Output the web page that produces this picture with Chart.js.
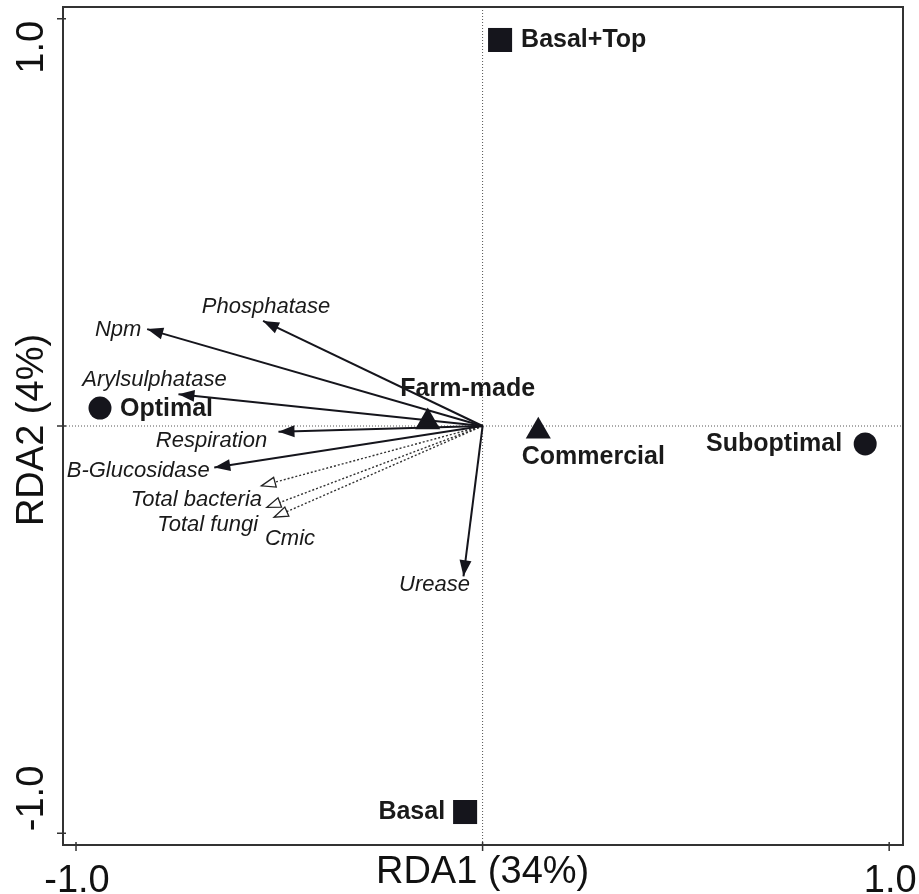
<!DOCTYPE html>
<html>
<head>
<meta charset="utf-8">
<script src="https://cdn.jsdelivr.net/npm/chart.js@4.4.1/dist/chart.umd.min.js"></script>
<style>
  html, body { margin: 0; padding: 0; background: #ffffff; }
  canvas { display: block; }
</style>
</head>
<body>
<canvas id="rda" width="919" height="894"></canvas>
<script>
// Response variables shown as biplot arrows (RDA1, RDA2 scores)
const varNames  = ['Phosphatase', 'Npm', 'Arylsulphatase', 'Respiration', 'B-Glucosidase',
                   'Total bacteria', 'Total fungi', 'Cmic', 'Urease'];
const varRDA1   = [-0.540, -0.825, -0.748, -0.502, -0.660, -0.544, -0.531, -0.513, -0.047];
const varRDA2   = [ 0.258,  0.238,  0.078, -0.014, -0.102, -0.147, -0.200, -0.224, -0.369];
const varDotted = [false, false, false, false, false, true, true, true, false];

// Treatment centroids
const fertNames   = ['Basal+Top', 'Basal'];
const fertRDA1    = [ 0.043, -0.043];
const fertRDA2    = [ 0.948, -0.948];
const irrigNames  = ['Optimal', 'Suboptimal'];
const irrigRDA1   = [-0.941,  0.941];
const irrigRDA2   = [ 0.044, -0.044];
const manureNames = ['Farm-made', 'Commercial'];
const manureRDA1  = [-0.135,  0.137];
const manureRDA2  = [ 0.010, -0.013];

// Axes
const axisTicks  = [-1, 0, 1];
const tickLabels = ['-1.0', '', '1.0'];
const xTitle = 'RDA1 (34%)';
const yTitle = 'RDA2 (4%)';

// Label placement (pixel offsets from each mark) and alignment
const varLabelOffset = [[3, -14], [-29, 1], [-24, -14], [-67, 9], [-76, 3], [-65, 14], [-59, 17], [16, 22], [-29, 9]];
const fertLabel   = [[21, 0, 'left'], [-20, 0, 'right']];
const irrigLabel  = [[20, 1, 'left'], [-23, 0, 'right']];
const manureLabel = [[40, -33, 'center'], [55, 26, 'center']];

const INK = '#15151c';
const FONT = '"Liberation Sans", Arial, Helvetica, sans-serif';

const pts = (xs, ys) => xs.map((v, i) => ({ x: v, y: ys[i] }));

const datasets = [];
varNames.forEach((name, i) => {
  datasets.push({
    label: name,
    data: [{ x: 0, y: 0 }, { x: varRDA1[i], y: varRDA2[i] }],
    showLine: true,
    borderColor: varDotted[i] ? '#333' : INK,
    borderWidth: varDotted[i] ? 1.4 : 2,
    borderDash: varDotted[i] ? [2, 2] : [],
    pointRadius: 0
  });
});
datasets.push({ label: 'Fertilization', data: pts(fertRDA1, fertRDA2), pointStyle: 'rect',
  pointRadius: 17, backgroundColor: INK, borderWidth: 0, showLine: false });
datasets.push({ label: 'Irrigation', data: pts(irrigRDA1, irrigRDA2), pointStyle: 'circle',
  pointRadius: 11.5, backgroundColor: INK, borderWidth: 0, showLine: false });
datasets.push({ label: 'Manure', data: pts(manureRDA1, manureRDA2), pointStyle: 'triangle',
  pointRadius: 14.5, backgroundColor: INK, borderWidth: 0, showLine: false });

const biplotDecor = {
  id: 'biplotDecor',
  beforeDatasetsDraw(chart) {
    const { ctx, chartArea: a, scales: { x, y } } = chart;
    const x0 = x.getPixelForValue(0), y0 = y.getPixelForValue(0);
    ctx.save();
    ctx.strokeStyle = '#555';
    ctx.lineWidth = 1;
    ctx.setLineDash([1, 2]);
    ctx.beginPath();
    ctx.moveTo(x0, a.top); ctx.lineTo(x0, a.bottom);
    ctx.moveTo(a.left, y0); ctx.lineTo(a.right, y0);
    ctx.stroke();
    ctx.restore();
  },
  afterDatasetsDraw(chart) {
    const { ctx, chartArea: a, scales: { x, y } } = chart;
    const ox = x.getPixelForValue(0), oy = y.getPixelForValue(0);
    ctx.save();

    // arrowheads
    varNames.forEach((name, i) => {
      const tx = x.getPixelForValue(varRDA1[i]), ty = y.getPixelForValue(varRDA2[i]);
      const ang = Math.atan2(ty - oy, tx - ox);
      const L = varDotted[i] ? 14 : 16, W = varDotted[i] ? 5 : 6;
      const bx = tx - L * Math.cos(ang), by = ty - L * Math.sin(ang);
      const px = -Math.sin(ang) * W, py = Math.cos(ang) * W;
      ctx.beginPath();
      ctx.moveTo(tx, ty);
      ctx.lineTo(bx + px, by + py);
      ctx.lineTo(bx - px, by - py);
      ctx.closePath();
      ctx.setLineDash([]);
      if (varDotted[i]) {
        ctx.fillStyle = '#fff'; ctx.fill();
        ctx.strokeStyle = '#222'; ctx.lineWidth = 1.3; ctx.stroke();
      } else {
        ctx.fillStyle = INK; ctx.fill();
      }
    });

    // variable labels
    ctx.fillStyle = '#1a1a1a';
    ctx.font = 'italic 22px ' + FONT;
    ctx.textAlign = 'center';
    ctx.textBaseline = 'middle';
    varNames.forEach((name, i) => {
      const tx = x.getPixelForValue(varRDA1[i]), ty = y.getPixelForValue(varRDA2[i]);
      ctx.fillText(name, tx + varLabelOffset[i][0], ty + varLabelOffset[i][1]);
    });

    // centroid labels
    ctx.font = 'bold 25px ' + FONT;
    const putLabels = (names, xs, ys, spec) => names.forEach((n, i) => {
      ctx.textAlign = spec[i][2];
      ctx.fillText(n, x.getPixelForValue(xs[i]) + spec[i][0], y.getPixelForValue(ys[i]) + spec[i][1]);
    });
    putLabels(fertNames, fertRDA1, fertRDA2, fertLabel);
    putLabels(irrigNames, irrigRDA1, irrigRDA2, irrigLabel);
    putLabels(manureNames, manureRDA1, manureRDA2, manureLabel);

    // frame
    ctx.strokeStyle = '#333';
    ctx.lineWidth = 2;
    ctx.strokeRect(a.left, a.top, a.right - a.left, a.bottom - a.top);

    // tick marks
    ctx.lineWidth = 1.5;
    ctx.beginPath();
    axisTicks.forEach(t => {
      const px = x.getPixelForValue(t);
      ctx.moveTo(px, a.bottom - 3); ctx.lineTo(px, a.bottom + 6);
      const py = y.getPixelForValue(t);
      ctx.moveTo(a.left - 6, py); ctx.lineTo(a.left + 3, py);
    });
    ctx.stroke();

    // tick labels
    ctx.fillStyle = '#111';
    ctx.font = '38px ' + FONT;
    ctx.textBaseline = 'alphabetic';
    ctx.textAlign = 'center';
    axisTicks.forEach((t, i) => {
      if (tickLabels[i]) ctx.fillText(tickLabels[i], x.getPixelForValue(t) + 1, 892);
    });
    axisTicks.forEach((t, i) => {
      if (!tickLabels[i]) return;
      ctx.save();
      ctx.translate(43, y.getPixelForValue(t));
      ctx.rotate(-Math.PI / 2);
      ctx.textAlign = t > 0 ? 'right' : 'left';
      ctx.fillText(tickLabels[i], t > 0 ? -2 : 2, 0);
      ctx.restore();
    });

    // axis titles
    ctx.textAlign = 'center';
    ctx.fillText(xTitle, x.getPixelForValue(0), 883);
    ctx.save();
    ctx.translate(43, y.getPixelForValue(0) + 4);
    ctx.rotate(-Math.PI / 2);
    ctx.fillText(yTitle, 0, 0);
    ctx.restore();

    ctx.restore();
  }
};

new Chart(document.getElementById('rda'), {
  type: 'scatter',
  data: { datasets },
  options: {
    responsive: false,
    animation: false,
    devicePixelRatio: 1,
    events: [],
    layout: { autoPadding: false, padding: { left: 63, right: 16, top: 7, bottom: 49 } },
    plugins: { legend: { display: false }, tooltip: { enabled: false } },
    scales: {
      x: { type: 'linear', display: false, min: -1.032, max: 1.034 },
      y: { type: 'linear', display: false, min: -1.029, max: 1.029 }
    }
  },
  plugins: [biplotDecor]
});
</script>
</body>
</html>
